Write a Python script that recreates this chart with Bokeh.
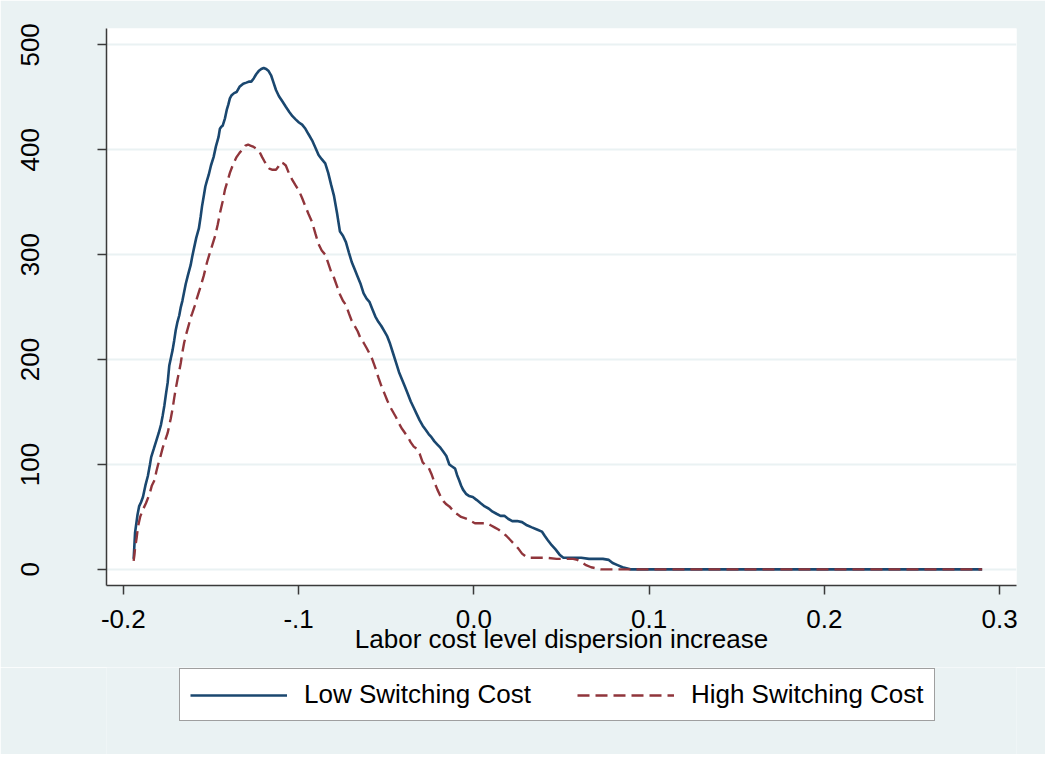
from bokeh.plotting import figure
from bokeh.layouts import column
from bokeh.models import Range1d, FixedTicker, Legend, LegendItem
from bokeh.embed import file_html
from bokeh.resources import INLINE

# ---- data ----
low_x = [-0.1941, -0.1933, -0.1919, -0.1910, -0.1899, -0.1888, -0.1874, -0.1860, -0.1848, -0.1841,
         -0.1826, -0.1813, -0.1798, -0.1785, -0.1775, -0.1766, -0.1756, -0.1747, -0.1738, -0.1728,
         -0.1719, -0.1710, -0.1701, -0.1691, -0.1681, -0.1672, -0.1663, -0.1644, -0.1632, -0.1616,
         -0.1607, -0.1597, -0.1584, -0.1569, -0.1559, -0.1551, -0.1541, -0.1532, -0.1522, -0.1513,
         -0.1500, -0.1485, -0.1472, -0.1457, -0.1449, -0.1441, -0.1433, -0.1420, -0.1410, -0.1401,
         -0.1392, -0.1382, -0.1368, -0.1354, -0.1337, -0.1316, -0.1298, -0.1281, -0.1270, -0.1256,
         -0.1242, -0.1228, -0.1213, -0.1199, -0.1185, -0.1171, -0.1157, -0.1143, -0.1129, -0.1112,
         -0.1092, -0.1073, -0.1053, -0.1035, -0.1017, -0.0998, -0.0980, -0.0961, -0.0944, -0.0923,
         -0.0904, -0.0886, -0.0868, -0.0848, -0.0831, -0.0815, -0.0798, -0.0781, -0.0764, -0.0747,
         -0.0730, -0.0713, -0.0697, -0.0680, -0.0663, -0.0646, -0.0629, -0.0612, -0.0596, -0.0579,
         -0.0562, -0.0545, -0.0528, -0.0511, -0.0494, -0.0478, -0.0461, -0.0444, -0.0427, -0.0410,
         -0.0393, -0.0376, -0.0360, -0.0343, -0.0326, -0.0309, -0.0292, -0.0275, -0.0258, -0.0242,
         -0.0225, -0.0208, -0.0191, -0.0174, -0.0157, -0.0140, -0.0124, -0.0107, -0.0096, -0.0084,
         -0.0073, -0.0062, -0.0045, -0.0028, -0.0006, 0.0017, 0.0039, 0.0062, 0.0084, 0.0107,
         0.0129, 0.0152, 0.0174, 0.0197, 0.0219, 0.0247, 0.0275, 0.0303, 0.0331, 0.0360,
         0.0388, 0.0404, 0.0421, 0.0444, 0.0466, 0.0489, 0.0511, 0.0556, 0.0612, 0.0657,
         0.0702, 0.0736, 0.0770, 0.0792, 0.0820, 0.0848, 0.0871, 0.0893, 0.10, 0.15,
         0.20, 0.25, 0.29]
low_y = [10, 35, 52, 60, 64, 69, 80, 89, 100, 107,
         115, 122, 130, 138, 147, 156, 168, 178, 194, 202,
         209, 218, 228, 236, 242, 250, 256, 272, 280, 290,
         298, 306, 316, 325, 336, 346, 356, 365, 371, 376,
         385, 393, 403, 412, 420, 422, 423, 430, 438, 443,
         449, 452, 454, 455, 460, 463, 464, 465, 465, 468,
         472, 475, 477, 478, 477, 475, 471, 464, 457, 451,
         446, 441, 436, 432, 429, 426, 424, 420, 415, 409,
         402, 395, 391, 387, 378, 367, 356, 340, 322, 318,
         312, 302, 293, 286, 279, 272, 263, 258, 255, 248,
         241, 236, 232, 227, 222, 215, 206, 197, 188, 181,
         174, 167, 160, 154, 148, 142, 137, 133, 129, 126,
         122, 119, 116, 112, 108, 100, 98, 96, 90, 85,
         80, 76, 72, 70, 69, 66, 63, 60, 58, 55,
         53, 51, 51, 48, 46, 46, 45, 42, 40, 38,
         36, 32, 28, 23, 19, 14, 11, 11, 11, 10,
         10, 10, 9, 6, 4, 2, 1, 0, 0, 0,
         0, 0, 0]

high_x = [-0.1941, -0.1933, -0.1924, -0.1916, -0.1904, -0.1888, -0.1871, -0.1850, -0.1837, -0.1822,
          -0.1812, -0.1803, -0.1789, -0.1775, -0.1761, -0.1747, -0.1738, -0.1729, -0.1719, -0.1710,
          -0.1701, -0.1691, -0.1681, -0.1672, -0.1663, -0.1653, -0.1640, -0.1625, -0.1616, -0.1607,
          -0.1593, -0.1579, -0.1560, -0.1541, -0.1522, -0.1504, -0.1489, -0.1476, -0.1461, -0.1448,
          -0.1433, -0.1420, -0.1404, -0.1392, -0.1374, -0.1354, -0.1337, -0.1316, -0.1303, -0.1288,
          -0.1275, -0.1260, -0.1242, -0.1223, -0.1208, -0.1195, -0.1180, -0.1167, -0.1152, -0.1129,
          -0.1115, -0.1101, -0.1087, -0.1073, -0.1056, -0.1035, -0.1017, -0.0998, -0.0980, -0.0961,
          -0.0944, -0.0923, -0.0904, -0.0886, -0.0868, -0.0848, -0.0831, -0.0815, -0.0798, -0.0781,
          -0.0764, -0.0747, -0.0730, -0.0713, -0.0697, -0.0680, -0.0663, -0.0646, -0.0629, -0.0612,
          -0.0596, -0.0579, -0.0562, -0.0545, -0.0528, -0.0511, -0.0494, -0.0478, -0.0461, -0.0444,
          -0.0427, -0.0410, -0.0393, -0.0376, -0.0360, -0.0343, -0.0326, -0.0309, -0.0292, -0.0275,
          -0.0258, -0.0242, -0.0225, -0.0208, -0.0191, -0.0174, -0.0157, -0.0140, -0.0124, -0.0107,
          -0.0090, -0.0073, -0.0056, -0.0039, -0.0017, 0.0006, 0.0028, 0.0051, 0.0073, 0.0096,
          0.0118, 0.0140, 0.0163, 0.0185, 0.0208, 0.0230, 0.0253, 0.0275, 0.0298, 0.0320,
          0.0360, 0.0416, 0.0472, 0.0528, 0.0567, 0.0590, 0.0612, 0.0640, 0.0669, 0.0697,
          0.0725, 0.10, 0.15, 0.20, 0.25, 0.29]
high_y = [8, 20, 30, 41, 50, 57, 63, 72, 80, 85,
          93, 99, 107, 116, 123, 130, 137, 144, 153, 163,
          172, 181, 189, 197, 207, 216, 225, 234, 240, 244,
          251, 259, 269, 280, 293, 303, 311, 318, 329, 340,
          351, 362, 371, 378, 386, 393, 397, 401, 404, 405,
          404, 403, 401, 398, 393, 389, 385, 382, 381, 381,
          384, 388, 387, 385, 378, 371, 366, 361, 354, 346,
          339, 331, 320, 310, 304, 300, 292, 284, 278, 270,
          262, 256, 252, 244, 237, 232, 227, 220, 216, 211,
          206, 200, 192, 183, 175, 168, 161, 155, 150, 145,
          139, 134, 130, 126, 121, 117, 115, 110, 102, 99,
          97, 91, 83, 76, 70, 65, 62, 60, 57, 54,
          52, 50, 49, 48, 46, 44, 44, 44, 44, 42,
          40, 38, 35, 32, 28, 24, 20, 15, 12, 11,
          11, 11, 10, 10, 10, 9, 7, 4, 2, 1,
          0, 0, 0, 0, 0, 0]

x_ticks = [-0.2, -0.1, 0.0, 0.1, 0.2, 0.3]
x_tick_labels = ["-0.2", "-.1", "0.0", "0.1", "0.2", "0.3"]
y_ticks = [0, 100, 200, 300, 400, 500]
series_labels = ["Low Switching Cost", "High Switching Cost"]
x_title = "Labor cost level dispersion increase"

# ---- styling ----
BG = "#EAF2F3"
NAVY = "#1A476F"
MAROON = "#90353B"
AXC = "#3a3a3a"
FONT = "Liberation Sans"
FS = "26px"
W = 1045
H1 = 667
H2 = 754 - H1
BORDERS = dict(min_border_left=106, min_border_right=29)

p = figure(width=W, height=H1, output_backend="svg", toolbar_location=None,
           x_range=Range1d(-0.2096, 0.3096), y_range=Range1d(-15.4, 515.6),
           min_border_top=28, min_border_bottom=82, **BORDERS)
p.background_fill_color = "white"
p.border_fill_color = BG
p.outline_line_color = None

LINE_LOW = dict(line_color=NAVY, line_width=2.6)
LINE_HIGH = dict(line_color=MAROON, line_width=2.4, line_dash="12 6")
p.line(low_x, low_y, **LINE_LOW)
p.line(high_x, high_y, **LINE_HIGH)

for ax in (p.xaxis[0], p.yaxis[0]):
    ax.axis_line_color = AXC
    ax.axis_line_width = 1.5
    ax.major_tick_line_color = AXC
    ax.major_tick_line_width = 1.5
    ax.major_tick_out = 9
    ax.major_tick_in = 0
    ax.minor_tick_line_color = None
    ax.major_label_text_font = FONT
    ax.major_label_text_font_size = FS
    ax.major_label_text_color = "black"

p.xaxis.ticker = FixedTicker(ticks=x_ticks)
p.xaxis.major_label_overrides = {t: l for t, l in zip(x_ticks, x_tick_labels)}
p.xaxis.major_label_standoff = 15
p.xaxis.axis_label = x_title
p.xaxis.axis_label_text_font = FONT
p.xaxis.axis_label_text_font_size = FS
p.xaxis.axis_label_text_font_style = "normal"
p.xaxis.axis_label_text_color = "black"
p.xaxis.axis_label_standoff = -7

p.yaxis.ticker = FixedTicker(ticks=y_ticks)
p.yaxis.major_label_orientation = "vertical"
p.yaxis.major_label_standoff = 58

p.xgrid.grid_line_color = None
p.ygrid.grid_line_color = BG
p.ygrid.grid_line_width = 2

# ---- legend strip below the plot (key lines use the same series, kept out of view) ----
q = figure(width=W, height=H2, output_backend="svg", toolbar_location=None,
           x_range=Range1d(10, 11), y_range=Range1d(10000, 10001),
           x_axis_location=None, y_axis_location=None,
           min_border_top=0, min_border_bottom=0, **BORDERS)
q.background_fill_color = BG
q.border_fill_color = BG
q.outline_line_color = None
q.grid.grid_line_color = None
k1 = q.line(low_x, low_y, **LINE_LOW)
k2 = q.line(high_x, high_y, **LINE_HIGH)

legend = Legend(items=[LegendItem(label=series_labels[0], renderers=[k1]),
                       LegendItem(label=series_labels[1], renderers=[k2])],
                orientation="horizontal", location=(73, 33),
                label_text_font=FONT, label_text_font_size=FS, label_text_color="black",
                glyph_width=97, glyph_height=24, label_standoff=17, spacing=46,
                padding=10, margin=0,
                border_line_color="#404040", border_line_width=1.5,
                background_fill_color="white", background_fill_alpha=1.0)
q.add_layout(legend, "center")

open("out.html", "w").write(file_html(column(p, q, spacing=0), INLINE))
